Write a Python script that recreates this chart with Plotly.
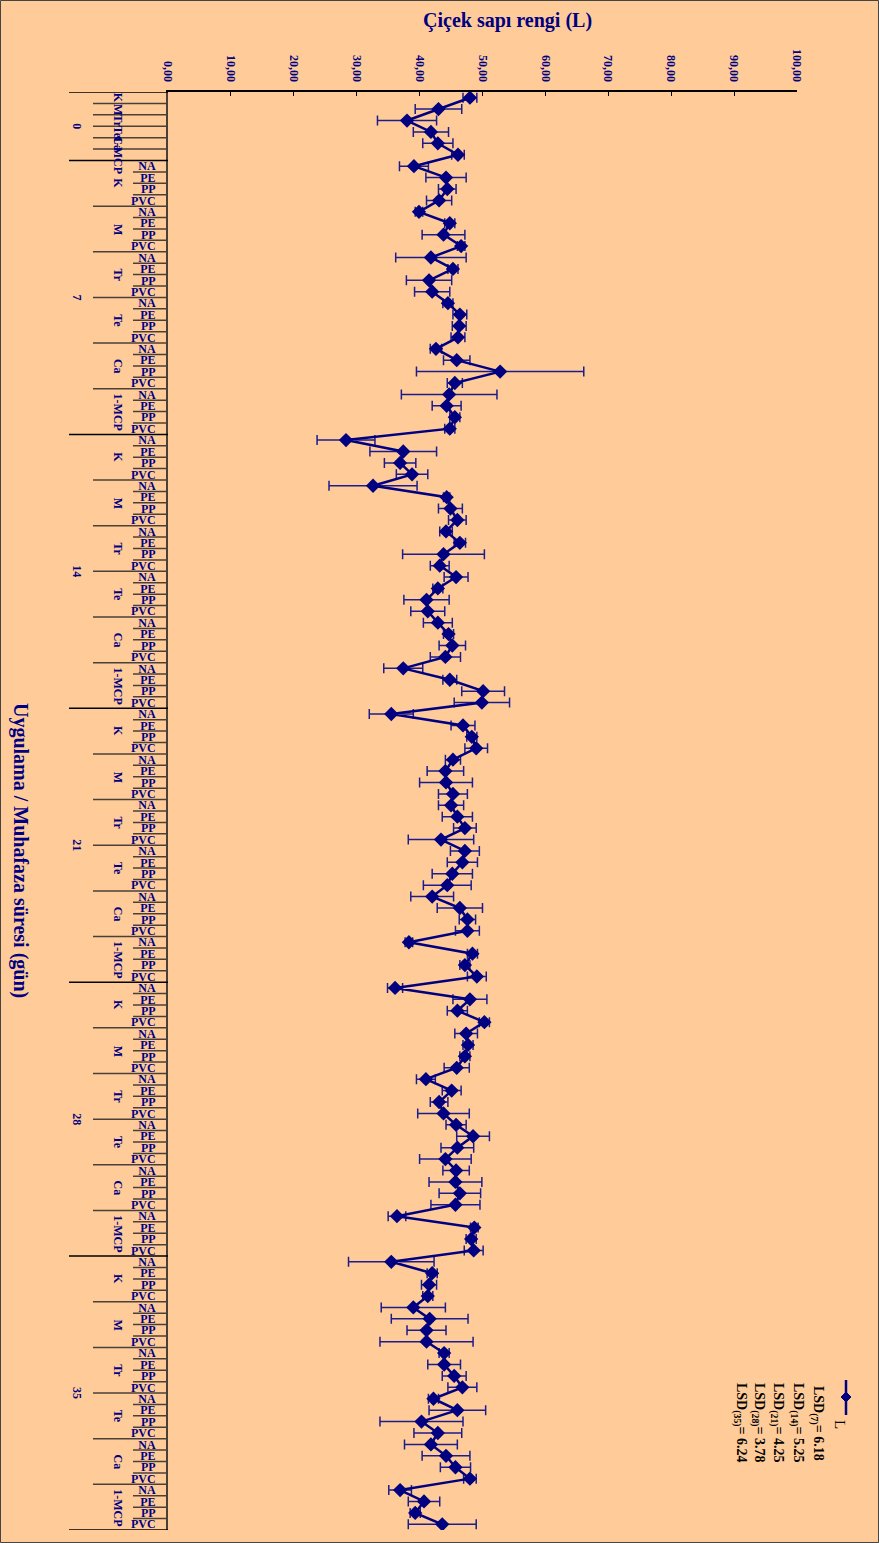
import plotly.graph_objects as go

# ---------------- data ----------------
packaging = ["NA", "PE", "PP", "PVC"]
groups = ["K", "M", "Tr", "Te", "Ca", "1-MCP"]
days = ["0", "7", "14", "21", "28", "35"]

L_day0 = [48.0, 43.0, 38.0, 41.8, 42.9, 46.1]
err_day0 = [1.1, 3.7, 4.7, 2.8, 2.4, 1.0]

L_day7 = [39.1, 44.2, 44.4, 43.1, 39.9, 44.8, 43.8, 46.6, 41.8, 45.3, 41.5, 42.0,
          44.5, 46.4, 46.3, 46.1, 42.6, 45.9, 52.8, 45.6, 44.7, 44.3, 45.6, 44.8]
err_day7 = [2.3, 3.2, 1.4, 2.0, 0.6, 0.8, 3.4, 0.6, 5.6, 0.8, 3.6, 2.8,
            0.8, 1.1, 1.1, 1.1, 0.9, 2.1, 13.3, 1.2, 7.6, 2.3, 0.8, 0.8]

L_day14 = [28.3, 37.4, 36.9, 38.8, 32.6, 44.3, 44.9, 46.0, 44.2, 46.4, 43.8, 43.2,
           45.8, 42.9, 41.1, 41.3, 42.9, 44.6, 45.2, 44.1, 37.4, 44.8, 50.1, 49.9]
err_day14 = [4.6, 5.3, 2.5, 2.5, 7.0, 0.5, 1.9, 1.4, 1.0, 0.9, 6.5, 1.5,
             1.9, 0.8, 3.6, 2.7, 2.3, 0.8, 2.1, 2.4, 3.1, 1.1, 3.4, 4.4]

L_day21 = [35.5, 46.9, 48.3, 49.0, 45.3, 44.1, 44.2, 45.3, 45.0, 46.0, 47.2, 43.4,
           47.2, 46.8, 45.2, 44.4, 42.0, 46.4, 47.6, 47.6, 38.3, 48.4, 47.2, 49.1]
err_day21 = [3.5, 1.9, 0.8, 1.8, 1.2, 2.9, 4.2, 2.3, 2.0, 2.4, 1.8, 5.2,
             2.3, 2.4, 3.2, 3.8, 3.4, 3.6, 1.3, 1.9, 0.6, 0.8, 0.8, 1.5]

L_day28 = [36.1, 48.0, 46.0, 50.3, 47.4, 47.7, 47.2, 45.9, 41.0, 45.1, 43.1, 43.8,
           45.8, 48.5, 46.0, 44.1, 45.8, 45.7, 46.4, 45.7, 36.4, 48.7, 48.2, 48.6]
err_day28 = [1.2, 2.7, 1.6, 0.8, 1.8, 0.8, 0.8, 2.0, 1.5, 1.5, 1.4, 4.1,
             1.6, 2.6, 2.6, 4.1, 2.1, 4.2, 3.3, 3.9, 1.4, 0.6, 0.8, 1.5]

L_day35 = [35.5, 42.0, 41.5, 41.3, 39.0, 41.6, 41.1, 41.1, 43.9, 43.9, 45.5, 46.8,
           42.2, 46.0, 40.3, 42.9, 41.8, 44.2, 45.7, 48.0, 36.9, 40.7, 39.3, 43.6]
err_day35 = [6.8, 0.8, 1.2, 0.8, 5.1, 6.1, 3.1, 7.4, 0.8, 2.6, 1.9, 2.3,
             0.8, 4.5, 6.6, 3.8, 4.2, 3.8, 2.4, 1.0, 1.8, 2.5, 0.8, 5.4]

lsd_labels = ["(7)", "(14)", "(21)", "(28)", "(35)"]
lsd_values = [6.18, 5.25, 4.25, 3.78, 6.24]

value_ticks = [0, 10, 20, 30, 40, 50, 60, 70, 80, 90, 100]

# ---------------- assemble ----------------
values = L_day0 + L_day7 + L_day14 + L_day21 + L_day28 + L_day35
errors = err_day0 + err_day7 + err_day14 + err_day21 + err_day28 + err_day35
n = len(values)
rows = list(range(n))
n0 = len(L_day0)
tick_rows = rows[n0:]
ticktext = packaging * (len(groups) * 5)

NAVY = "#000080"
BG = "#FFCC99"
FONT = "Liberation Serif"

W, H = 879, 1543
ML, MR, MT, MB = 168, 82, 92, 13
PW, PH = W - ML - MR, H - MT - MB


def px(xp):
    return (xp - ML) / PW


def py(yp):
    return (H - MB - yp) / PH


fig = go.Figure()
fig.add_trace(go.Scatter(
    x=values, y=rows, mode="lines+markers",
    line=dict(color=NAVY, width=2.5),
    marker=dict(symbol="diamond", size=11, color=NAVY),
    error_x=dict(type="data", array=errors, color="#1c1c8c", thickness=1.5, width=5),
    showlegend=False, name="L",
))

shapes = []
day_starts = [0, 6, 30, 54, 78, 102, 126]
for k in range(n + 1):
    if k in day_starts:
        x0, col = px(69), "black"
    elif k < 6 or (k - 6) % 4 == 0:
        x0, col = px(93), "#4a4038"
    else:
        x0, col = px(133), "#4a4038"
    shapes.append(dict(type="line", xref="paper", yref="y", x0=x0, x1=0,
                       y0=k - 0.5, y1=k - 0.5, line=dict(color=col, width=1.5)))

# legend glyph
shapes.append(dict(type="line", xref="paper", yref="paper", x0=px(846), x1=px(846),
                   y0=py(1380), y1=py(1415), line=dict(color=NAVY, width=2.5)))
cx, cy, d = 846, 1397, 5
shapes.append(dict(type="path", xref="paper", yref="paper",
                   path=f"M {px(cx)} {py(cy-d)} L {px(cx+d)} {py(cy)} L {px(cx)} {py(cy+d)} L {px(cx-d)} {py(cy)} Z",
                   fillcolor=NAVY, line=dict(color=NAVY, width=1)))
# outer border
shapes.append(dict(type="rect", xref="paper", yref="paper", x0=px(0.5), x1=px(W - 0.5),
                   y0=py(H - 0.5), y1=py(0.5), line=dict(color="#444444", width=1)))


def A(**kw):
    kw.setdefault("showarrow", False)
    kw.setdefault("xanchor", "center")
    kw.setdefault("yanchor", "middle")
    return kw


ann = []
ann.append(A(text="<b>Çiçek sapı rengi (L)</b>", xref="paper", yref="paper",
             x=px(507), y=py(20), font=dict(family=FONT, size=20, color=NAVY)))
ann.append(A(text="<b>Uygulama / Muhafaza süresi (gün)</b>", xref="paper", yref="paper",
             x=px(20), y=py(850), textangle=90,
             font=dict(family=FONT, size=20, color=NAVY)))

# group labels
for g, name in enumerate(groups):
    ann.append(A(text=f"<b>{name}</b>", xref="paper", yref="y", x=px(118), y=g,
                 textangle=90, font=dict(family=FONT, size=12, color=NAVY)))
for di in range(1, 6):
    for g, name in enumerate(groups):
        c = 6 + (di - 1) * 24 + g * 4 + 1.5
        ann.append(A(text=f"<b>{name}</b>", xref="paper", yref="y", x=px(118), y=c,
                     textangle=90, font=dict(family=FONT, size=12, color=NAVY)))
# day labels
for di, dname in enumerate(days):
    c = 2.5 if di == 0 else 6 + (di - 1) * 24 + 11.5
    ann.append(A(text=f"<b>{dname}</b>", xref="paper", yref="y", x=px(77), y=c,
                 textangle=90, font=dict(family=FONT, size=12, color=NAVY)))

# LSD notes
lsd_x = [817, 797, 777, 758, 740]
for xi, lab, v in zip(lsd_x, lsd_labels, lsd_values):
    ann.append(A(text=f"<b>LSD<sub>{lab}</sub>= {v:.2f}</b>", xref="paper", yref="paper",
                 x=px(xi), y=py(1423), textangle=90,
                 font=dict(family=FONT, size=14, color="black")))
ann.append(A(text="L", xref="paper", yref="paper", x=px(840), y=py(1424),
             textangle=90, font=dict(family=FONT, size=15, color="black")))

fig.update_layout(
    width=W, height=H,
    margin=dict(l=ML, r=MR, t=MT, b=MB),
    paper_bgcolor=BG, plot_bgcolor=BG,
    shapes=shapes, annotations=ann,
    xaxis=dict(range=[0, 100], side="top", showline=True, linecolor="black", linewidth=1.5,
               ticks="inside", ticklen=4, tickcolor="black",
               tickvals=value_ticks,
               ticktext=[f"{v:.2f}".replace(".", ",") for v in value_ticks],
               tickangle=90, tickfont=dict(family=FONT, size=12, color=NAVY, weight="bold"),
               showgrid=False, zeroline=False, ticklabelstandoff=4),
    yaxis=dict(range=[n - 0.5, -0.5], showline=True, linecolor="#4a4038", linewidth=2,
               tickvals=tick_rows, ticktext=ticktext, ticks="",
               tickfont=dict(family=FONT, size=12, color=NAVY, weight="bold"),
               showgrid=False, zeroline=False, ticklabelstandoff=8),
)

fig.write_html("out.html", config={"displayModeBar": False},
               post_script="document.body.style.margin='0';document.body.style.overflow='hidden';")
